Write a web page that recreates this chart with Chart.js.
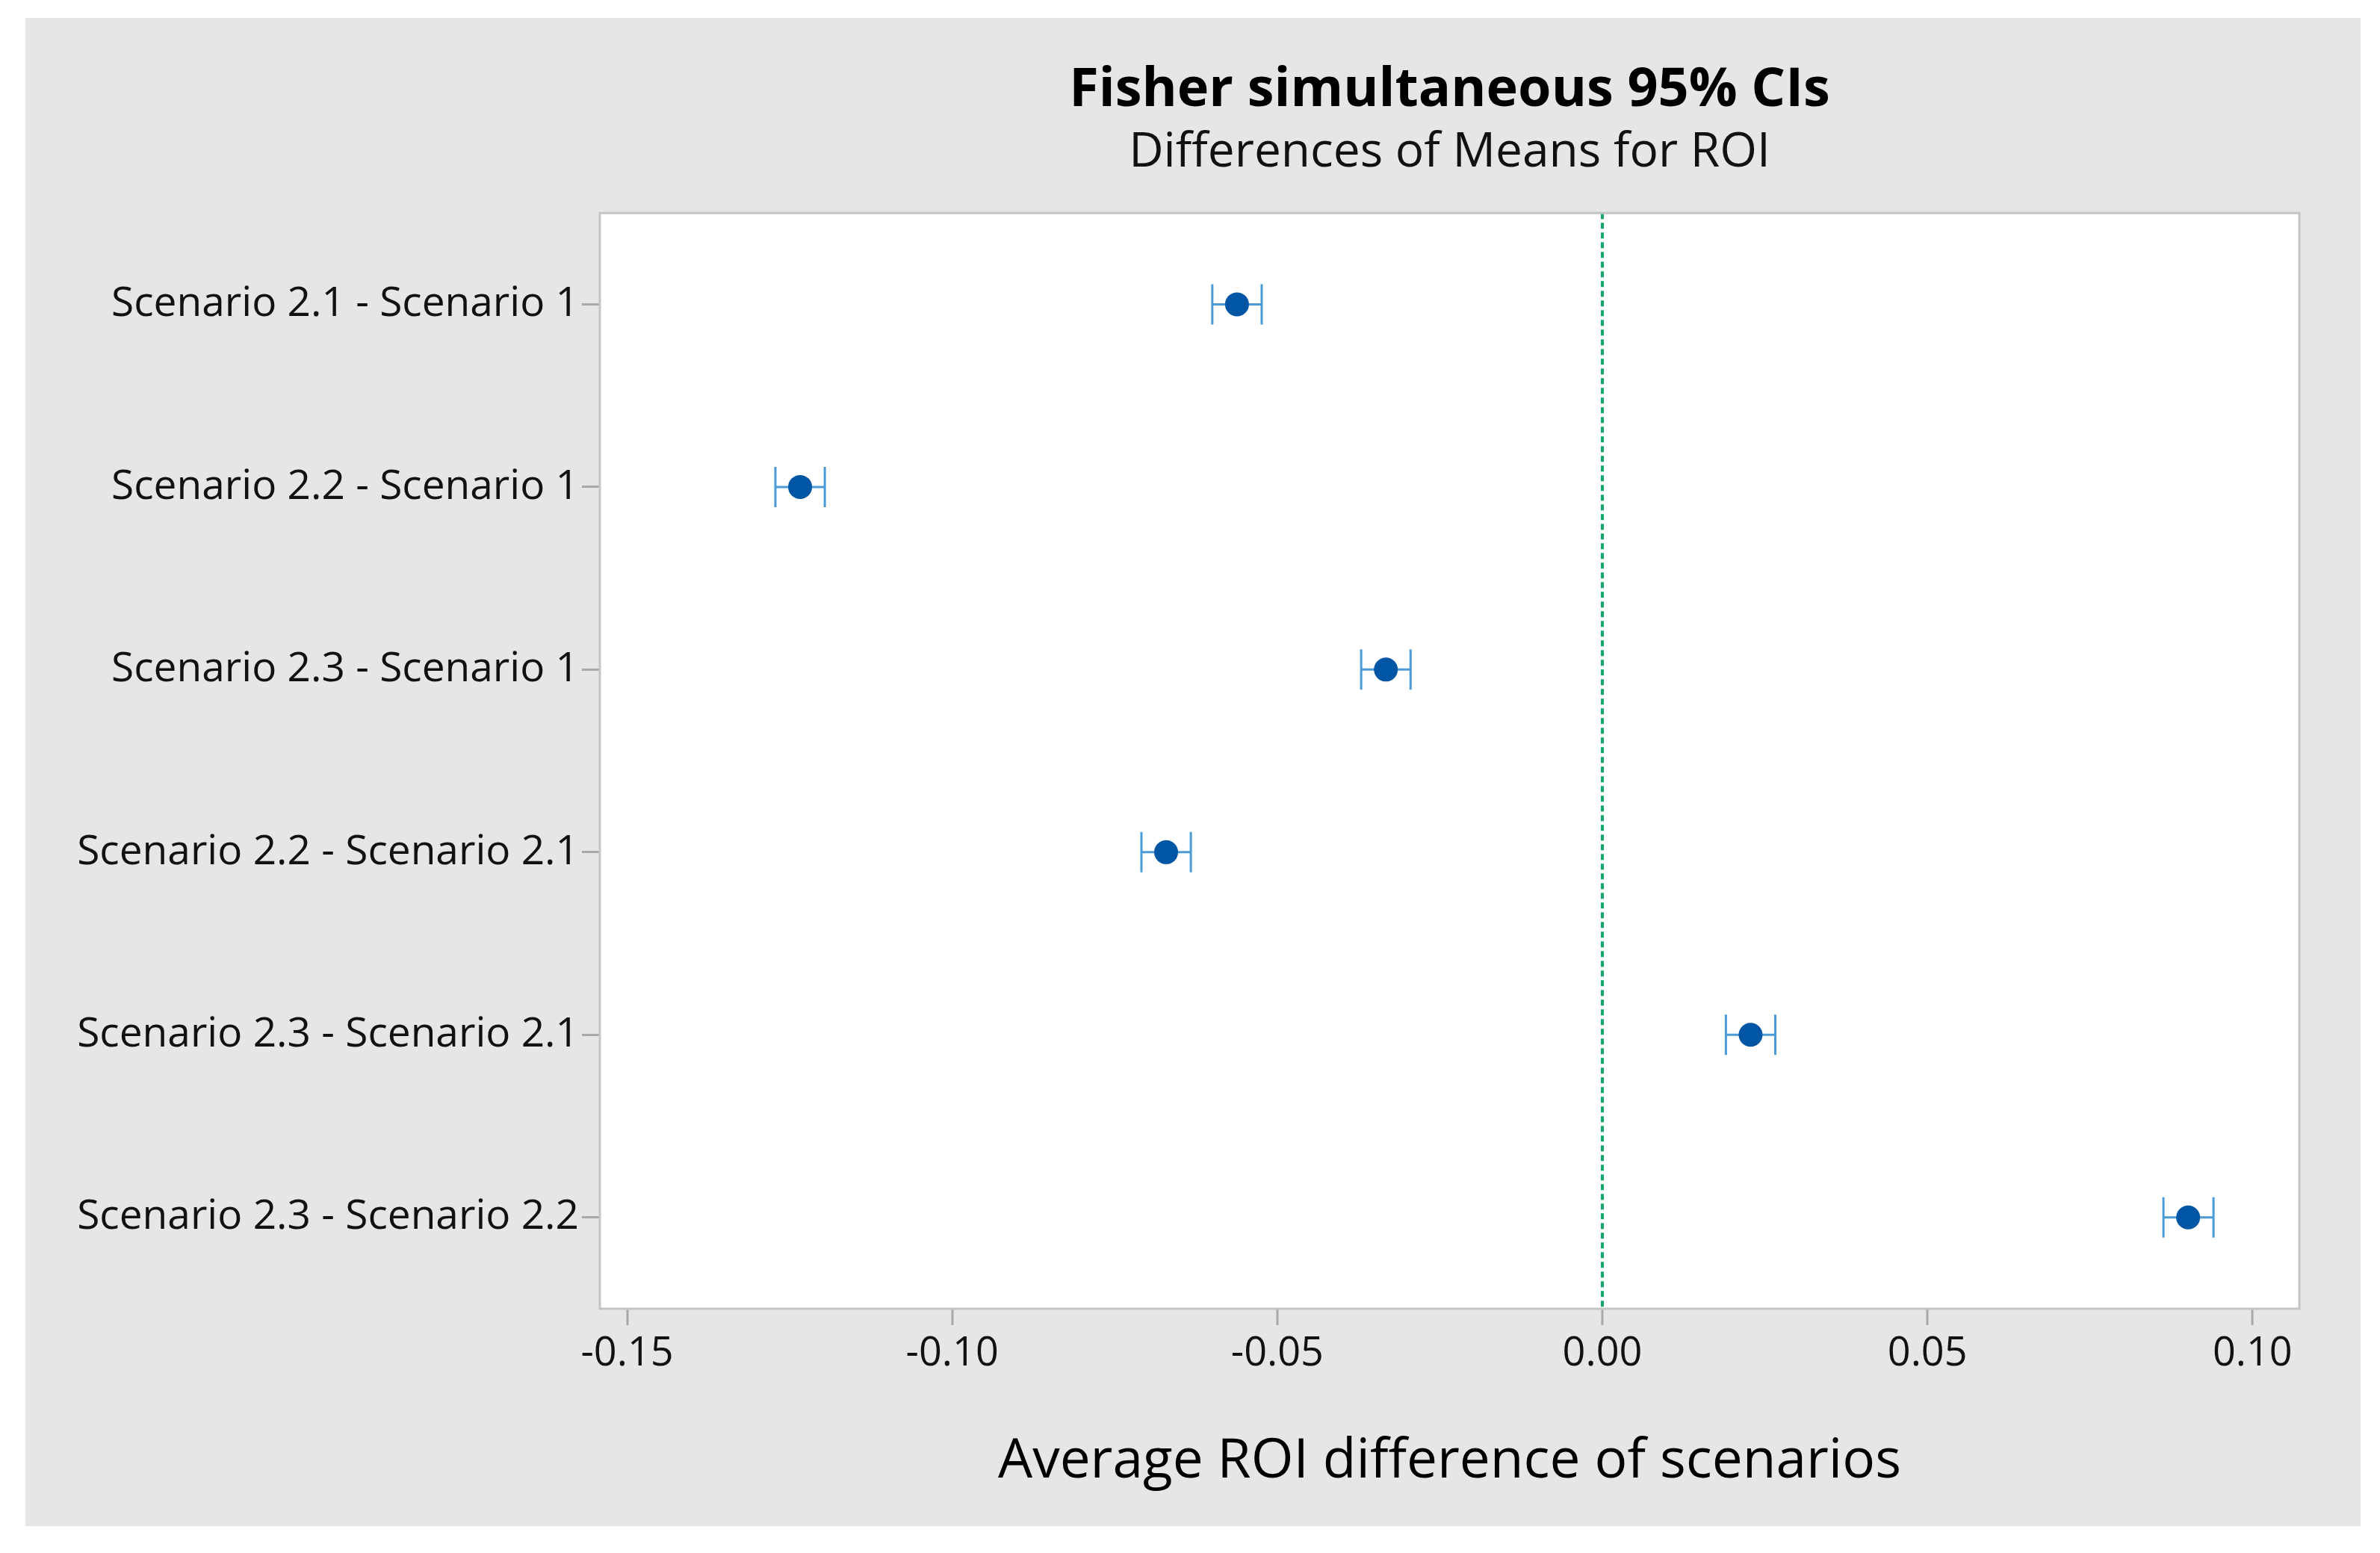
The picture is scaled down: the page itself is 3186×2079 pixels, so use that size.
<!DOCTYPE html>
<html>
<head>
<meta charset="utf-8">
<script src="https://cdn.jsdelivr.net/npm/chart.js@4"></script>
<style>
  html, body { margin: 0; padding: 0; background: #ffffff; }
  #frame {
    position: absolute;
    left: 34px; top: 24px;
    width: 3126px; height: 2019px;
    background: #e6e6e6;
  }
</style>
</head>
<body>
<div id="frame"><canvas id="DiagramCI"></canvas></div>
<script>
// comparisons (top to bottom)
const comparisons = [
  "Scenario 2.1 - Scenario 1",
  "Scenario 2.2 - Scenario 1",
  "Scenario 2.3 - Scenario 1",
  "Scenario 2.2 - Scenario 2.1",
  "Scenario 2.3 - Scenario 2.1",
  "Scenario 2.3 - Scenario 2.2",
];
// difference of means and 95% CI bounds
const meanDiff = [-0.0562, -0.1234, -0.0333, -0.0671, 0.0228, 0.0901];
const lowerCI  = [-0.0600, -0.1272, -0.0371, -0.0709, 0.0190, 0.0863];
const upperCI  = [-0.0524, -0.1196, -0.0295, -0.0633, 0.0266, 0.0940];
const xTicks   = [-0.15, -0.10, -0.05, 0.00, 0.05, 0.10];

const fontFamily = "'Open Sans', 'Noto Sans', sans-serif";

// error bar segments: lower -> upper, broken by a null point
const ciPoints = [];
comparisons.forEach((c, i) => {
  ciPoints.push({ x: lowerCI[i], y: c });
  ciPoints.push({ x: upperCI[i], y: c });
  ciPoints.push({ x: null, y: c });
});

const plotBackground = {
  id: "plotBackground",
  beforeDraw(chart) {
    const { ctx, chartArea: a } = chart;
    ctx.save();
    ctx.fillStyle = "#ffffff";
    ctx.fillRect(a.left, a.top, a.right - a.left, a.bottom - a.top);
    ctx.restore();
  },
  afterDraw(chart) {
    const { ctx, chartArea: a } = chart;
    ctx.save();
    ctx.strokeStyle = "#c4c4c4";
    ctx.lineWidth = 3;
    ctx.strokeRect(a.left, a.top, a.right - a.left, a.bottom - a.top);
    ctx.restore();
  },
};

const ctx = document.getElementById("DiagramCI");

new Chart(ctx, {
  type: "scatter",
  data: {
    datasets: [
      {
        label: "CI",
        type: "line",
        data: ciPoints,
        spanGaps: false,
        borderColor: "#4a9bd6",
        borderWidth: 3,
        pointStyle: "line",
        rotation: 90,
        pointRadius: 27,
        pointBorderWidth: 3,
        pointBorderColor: "#4a9bd6",
        order: 2,
      },
      {
        label: "Mean",
        data: comparisons.map((c, i) => ({ x: meanDiff[i], y: c })),
        pointStyle: "circle",
        pointRadius: 16,
        pointBackgroundColor: "#0055a5",
        pointBorderWidth: 0,
        order: 1,
      },
    ],
  },
  options: {
    responsive: true,
    maintainAspectRatio: false,
    animation: false,
    layout: { padding: { top: 0, right: 82, bottom: 0, left: 0 } },
    plugins: {
      legend: { display: false },
      tooltip: { enabled: false },
      title: {
        display: true,
        fullSize: false,
        text: "Fisher simultaneous 95% CIs",
        color: "#000000",
        font: { family: fontFamily, size: 72, weight: "bold" },
        padding: { top: 54, bottom: 0 },
      },
      subtitle: {
        display: true,
        fullSize: false,
        text: "Differences of Means for ROI",
        color: "#111111",
        font: { family: fontFamily, size: 64 },
        padding: { top: 2, bottom: 42 },
      },
    },
    scales: {
      x: {
        type: "linear",
        min: -0.1542,
        max: 0.1072,
        afterBuildTicks(scale) {
          scale.ticks = xTicks.map((v) => ({ value: v }));
        },
        afterFit(scale) {
          scale.height = 291;
        },
        ticks: {
          color: "#111111",
          font: { family: fontFamily, size: 54 },
          padding: 6,
          callback: (v) => v.toFixed(2),
        },
        grid: {
          drawOnChartArea: true,
          color: (c) => (c.tick && c.tick.value === 0 ? "#12a86a" : "rgba(0,0,0,0)"),
          lineWidth: 4,
          tickColor: "#a8a8a8",
          tickWidth: 3,
          tickLength: 22,
        },
        border: { display: false, dash: [8, 5] },
        title: {
          display: true,
          text: "Average ROI difference of scenarios",
          color: "#000000",
          font: { family: fontFamily, size: 73 },
          padding: { top: 0, bottom: 42 },
        },
      },
      y: {
        type: "category",
        labels: comparisons,
        offset: true,
        afterFit(scale) {
          scale.width = 769;
        },
        ticks: {
          color: "#111111",
          font: { family: fontFamily, size: 55 },
          padding: 4,
        },
        grid: {
          drawOnChartArea: false,
          tickColor: "#a8a8a8",
          tickWidth: 3,
          tickLength: 24,
        },
        border: { display: false },
      },
    },
  },
  plugins: [plotBackground],
});
</script>
</body>
</html>
